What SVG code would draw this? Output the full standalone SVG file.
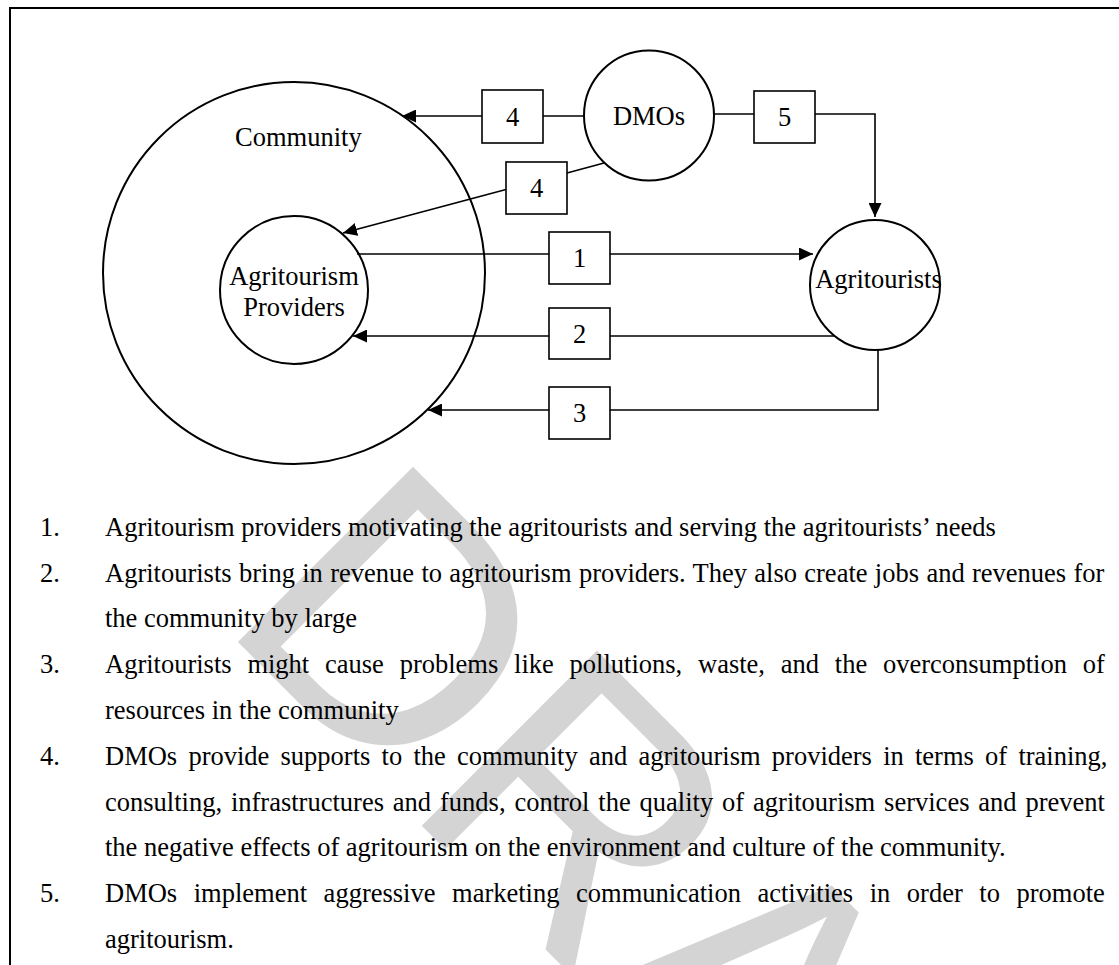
<svg xmlns="http://www.w3.org/2000/svg" width="1119" height="965" viewBox="0 0 1119 965">
<style>
.ln{stroke:#000;stroke-width:1.6;fill:none}
.arr{stroke:#000;stroke-width:1.6;fill:none;marker-end:url(#ah)}
.box{fill:#fff;stroke:#000;stroke-width:1.6}
.circ{fill:none;stroke:#000;stroke-width:2}
.t{font-family:"Liberation Serif","Times New Roman",serif;font-size:26.5px;fill:#000}
.c{text-anchor:middle}
.wm{font-family:"Liberation Sans",Arial,sans-serif;font-size:360px;fill:#d4d4d4}
</style>
<defs>
<marker id="ah" markerUnits="userSpaceOnUse" markerWidth="14" markerHeight="13" refX="14" refY="6.5" orient="auto">
<path d="M0,0 L14,6.5 L0,13 z" fill="#000"/>
</marker>
</defs>
<rect width="1119" height="965" fill="#fff"/>
<g id="watermark">
<text class="wm" transform="translate(217,621) rotate(45)">DRAFT</text>
</g>
<g id="frame">
<path class="ln" style="stroke-width:2" d="M10,965 V8 H1119"/>
</g>
<g id="node-community">
<circle class="circ" cx="294" cy="273" r="191"/>
<text class="t" x="235" y="146">Community</text>
</g>
<g id="node-providers">
<circle class="circ" cx="294" cy="290" r="74"/>
<text class="t c" x="294" y="285">Agritourism</text>
<text class="t c" x="294" y="316">Providers</text>
</g>
<g id="node-dmos">
<circle class="circ" cx="649" cy="115.5" r="65"/>
<text class="t c" x="649" y="125">DMOs</text>
</g>
<g id="node-agritourists">
<circle class="circ" cx="875" cy="285" r="65"/>
<text class="t c" x="878.5" y="288">Agritourists</text>
</g>
<g id="connectors">
<path class="ln" d="M584,116 H543"/>
<path class="arr" d="M482,116 H402"/>
<path class="ln" d="M604,163 L567,173"/>
<path class="arr" d="M506,189.5 L343,233"/>
<path class="ln" d="M714,114 H754"/>
<path class="arr" d="M815,114 H875 V217"/>
<path class="ln" d="M357,254 H549"/>
<path class="arr" d="M610,254 H813"/>
<path class="ln" d="M835,336 H610"/>
<path class="arr" d="M549,336 H353"/>
<path class="ln" d="M878,350 V410 H610"/>
<path class="arr" d="M549,410 H428"/>
</g>
<g id="connector-labels">
<g id="label-4a"><rect class="box" x="482" y="90" width="61" height="53"/><text class="t c" x="512.5" y="125.5">4</text></g>
<g id="label-4b"><rect class="box" x="506" y="162" width="61" height="52"/><text class="t c" x="536.5" y="197">4</text></g>
<g id="label-5"><rect class="box" x="754" y="91" width="61" height="52"/><text class="t c" x="784.5" y="126">5</text></g>
<g id="label-1"><rect class="box" x="549" y="232" width="61" height="52"/><text class="t c" x="579.5" y="267">1</text></g>
<g id="label-2"><rect class="box" x="549" y="308" width="61" height="51"/><text class="t c" x="579.5" y="342.5">2</text></g>
<g id="label-3"><rect class="box" x="549" y="387" width="61" height="52"/><text class="t c" x="579.5" y="422">3</text></g>
</g>
<g id="legend">
<text class="t" x="40" y="536">1.</text>
<text class="t" x="105" y="536">Agritourism providers motivating the agritourists and serving the agritourists’ needs</text>
<text class="t" x="40" y="582">2.</text>
<text class="t" x="105" y="582" style="word-spacing:0.72px">Agritourists bring in revenue to agritourism providers. They also create jobs and revenues for</text>
<text class="t" x="105" y="627">the community by large</text>
<text class="t" x="40" y="673">3.</text>
<text class="t" x="105" y="673" style="word-spacing:9.16px">Agritourists might cause problems like pollutions, waste, and the overconsumption of</text>
<text class="t" x="105" y="719">resources in the community</text>
<text class="t" x="40" y="765">4.</text>
<text class="t" x="105" y="765" style="word-spacing:4.6px">DMOs provide supports to the community and agritourism providers in terms of training,</text>
<text class="t" x="105" y="811" style="word-spacing:2.26px">consulting, infrastructures and funds, control the quality of agritourism services and prevent</text>
<text class="t" x="105" y="856">the negative effects of agritourism on the environment and culture of the community.</text>
<text class="t" x="40" y="902">5.</text>
<text class="t" x="105" y="902" style="word-spacing:9.94px">DMOs implement aggressive marketing communication activities in order to promote</text>
<text class="t" x="105" y="948">agritourism.</text>
</g>
</svg>
